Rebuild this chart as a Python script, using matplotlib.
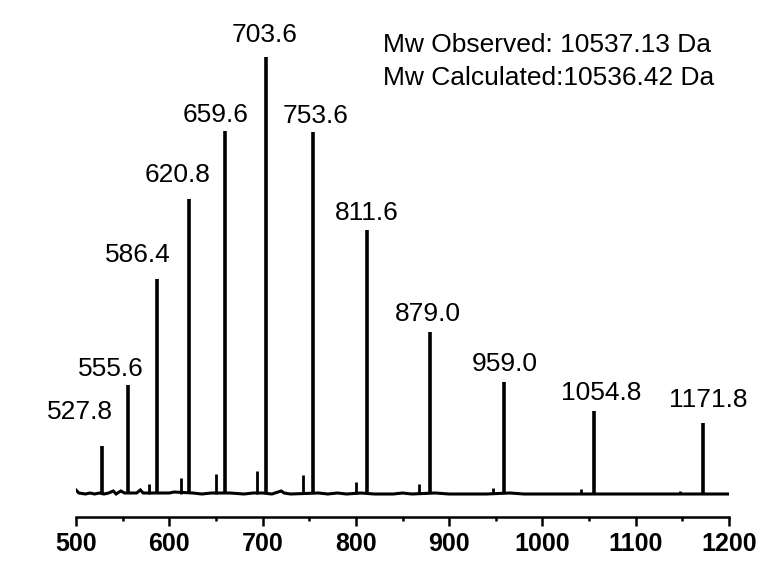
import matplotlib
matplotlib.use("Agg")
import matplotlib.pyplot as plt
from matplotlib.ticker import MultipleLocator

plt.rcParams['font.family'] = ['Liberation Sans', 'DejaVu Sans']

# Main labelled peaks (m/z, relative intensity)
peak_mz = [527.8, 555.6, 586.4, 620.8, 659.6, 703.6, 753.6, 811.6, 879.0, 959.0, 1054.8, 1171.8]
peak_int = [48, 109, 215, 295, 363, 437, 362, 264, 162, 112, 83, 71]
peak_labels = ["527.8", "555.6", "586.4", "620.8", "659.6", "703.6",
               "753.6", "811.6", "879.0", "959.0", "1054.8", "1171.8"]

# Minor (adduct) peaks
minor_mz = [578.0, 612.5, 650.5, 694.0, 743.5, 800.0, 867.5, 947.0, 1041.0, 1148.0]
minor_int = [10, 16, 20, 23, 19, 12, 10, 6, 5, 3]

# Baseline trace
base_mz = [500, 501, 503, 510, 515, 520, 525, 530, 535, 540, 543, 548, 552, 560, 565, 569, 572,
           590, 600, 605, 625, 635, 645, 665, 680, 690, 700, 710, 720, 723, 730, 760, 770,
           780, 790, 805, 820, 840, 850, 860, 885, 900, 920, 940, 965, 980, 1000,
           1020, 1035, 1060, 1080, 1100, 1120, 1140, 1160, 1180, 1190, 1200]
base_int = [4, 3, 1, 0, 1, 0, 1, 0, 1, 3, 0, 3, 1, 1, 1, 4, 1,
            1, 1, 2, 1, 0, 1, 1, 0, 1, 1, 0, 3, 1, 0, 1, 0,
            1, 0, 1, 0, 0, 1, 0, 1, 0, 0, 0, 1, 0, 0,
            0, 0, 0, 0, 0, 0, 0, 0, 0, 0, 0]

# Label placement (layout)
label_x = [504.3, 537.5, 566.5, 609.3, 650.1, 702.6, 757.3, 811.9, 877.3, 959.9, 1062.8, 1177.5]
label_y = [75, 118, 232, 312, 372, 452, 371, 274, 173, 123, 94, 87]

info_lines = ["Mw Observed: 10537.13 Da", "Mw Calculated:10536.42 Da"]

W, H = 763, 570
fig = plt.figure(figsize=(W / 100, H / 100), dpi=100)
left, right, bottom, top = 76, 729, 517, 20
ax = fig.add_axes([left / W, (H - bottom) / H, (right - left) / W, (bottom - top) / H])

ax.plot(base_mz, base_int, color='black', lw=2.2, solid_joinstyle='miter')
ax.vlines(minor_mz, 0, minor_int, color='black', lw=2.0)
ax.vlines(peak_mz, 0, peak_int, color='black', lw=2.6)

for lx, ly, t in zip(label_x, label_y, peak_labels):
    ax.text(lx, ly, t, ha='center', va='baseline', fontsize=19, color='black')

ax.text(829.1, 442, info_lines[0], ha='left', va='baseline', fontsize=19)
ax.text(829.1, 409, info_lines[1], ha='left', va='baseline', fontsize=19)

ax.set_xlim(500, 1200)
ax.set_ylim(-23, 474)
for s in ['top', 'right', 'left']:
    ax.spines[s].set_visible(False)
ax.spines['bottom'].set_linewidth(1.8)
ax.set_yticks([])
ax.xaxis.set_major_locator(MultipleLocator(100))
ax.xaxis.set_minor_locator(MultipleLocator(50))
ax.tick_params(axis='x', which='major', direction='out', length=6.5, width=1.8, pad=4,
               labelsize=18)
ax.tick_params(axis='x', which='minor', direction='out', length=3, width=1.8)
for lab in ax.get_xticklabels():
    lab.set_fontweight('bold')

fig.savefig("out.png", dpi=100)
